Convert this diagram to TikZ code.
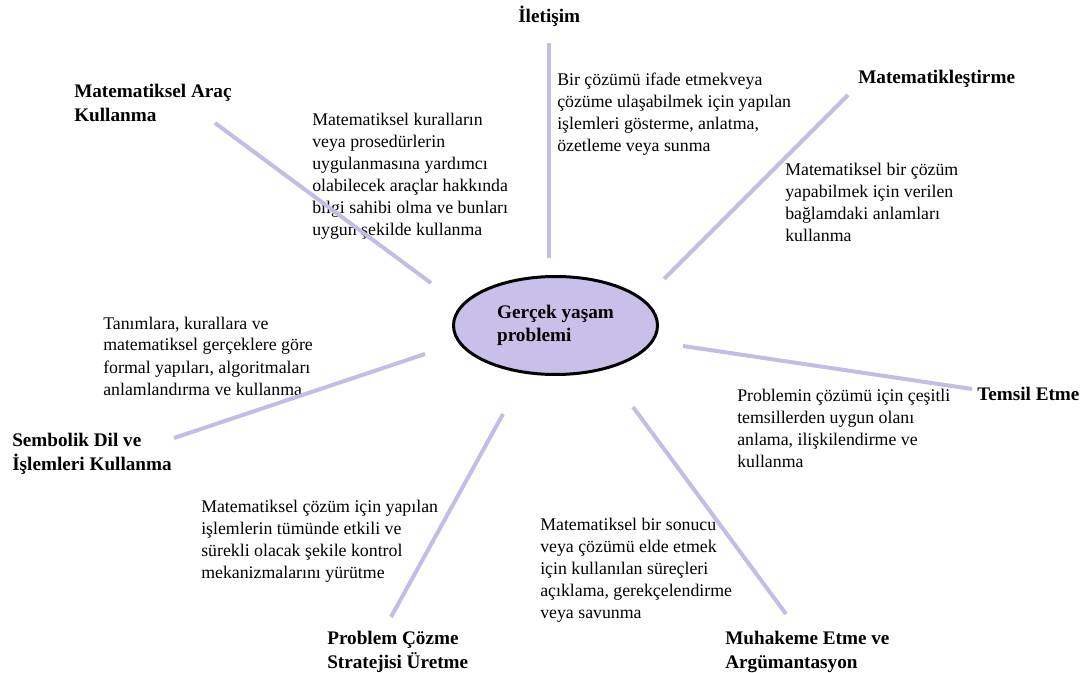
\documentclass[tikz,border=0pt]{standalone}
\usepackage{fontspec}
\setmainfont{Liberation Serif}
\definecolor{spokecol}{RGB}{196,188,230}
\definecolor{hubfill}{RGB}{200,192,232}
% left-aligned stack of lines whose baseline is the first line
\newcommand{\linestack}[1]{\begin{tabular}[t]{@{}l@{}}#1\end{tabular}}
\tikzset{
  desc/.style={anchor=base west, inner sep=0pt, font=\fontsize{13.35}{16.5}\selectfont},
  heading/.style={anchor=base west, inner sep=0pt, font=\fontsize{14.4}{18}\selectfont\bfseries},
  hub/.style={ellipse, draw=black, line width=2.25pt, fill=hubfill, inner sep=0pt,
    minimum width=153pt, minimum height=73.5pt,
    font=\fontsize{14.4}{17.25}\selectfont\bfseries},
  spoke/.style={draw=spokecol, line width=3pt}
}
\usetikzlibrary{shapes.geometric}
\begin{document}
\begin{tikzpicture}[x=0.75pt, y=-0.75pt]
\useasboundingbox (0,0) rectangle (1087,673);

% central problem
\node[hub] (core) at (555.5,325.5) {\linestack{Gerçek yaşam\\problemi}};

% competency headings
\node[heading] (ilet) at (518,23) {İletişim};
\node[heading] (arac) at (74,98) {\linestack{Matematiksel Araç\\Kullanma}};
\node[heading] (matk) at (858,84) {Matematikleştirme};
\node[heading] (tems) at (977,400) {Temsil Etme};
\node[heading] (semb) at (12,446) {\linestack{Sembolik Dil ve\\İşlemleri Kullanma}};
\node[heading] (prob) at (327,644) {\linestack{Problem Çözme\\Stratejisi Üretme}};
\node[heading] (muha) at (725,644) {\linestack{Muhakeme Etme ve\\Argümantasyon}};

% descriptions
\node[desc] (d-ilet) at (557,86) {\linestack{Bir çözümü ifade etmekveya\\çözüme ulaşabilmek için yapılan\\işlemleri gösterme, anlatma,\\özetleme veya sunma}};
\node[desc] (d-arac) at (312,126) {\linestack{Matematiksel kuralların\\veya prosedürlerin\\uygulanmasına yardımcı\\olabilecek araçlar hakkında\\bilgi sahibi olma ve bunları\\uygun şekilde kullanma}};
\node[desc] (d-matk) at (785,176) {\linestack{Matematiksel bir çözüm\\yapabilmek için verilen\\bağlamdaki anlamları\\kullanma}};
\node[desc] (d-semb) at (103,329) {\linestack{Tanımlara, kurallara ve\\matematiksel gerçeklere göre\\formal yapıları, algoritmaları\\anlamlandırma ve kullanma}};
\node[desc] (d-tems) at (737,401) {\linestack{Problemin çözümü için çeşitli\\temsillerden uygun olanı\\anlama, ilişkilendirme ve\\kullanma}};
\node[desc] (d-prob) at (201,512) {\linestack{Matematiksel çözüm için yapılan\\işlemlerin tümünde etkili ve\\sürekli olacak şekile kontrol\\mekanizmalarını yürütme}};
\node[desc] (d-muha) at (540,530) {\linestack{Matematiksel bir sonucu\\veya çözümü elde etmek\\için kullanılan süreçleri\\açıklama, gerekçelendirme\\veya savunma}};

% spoke end points
\coordinate (s1a) at (549,43);   \coordinate (s1b) at (549,258);
\coordinate (s2a) at (848,95);   \coordinate (s2b) at (664,279);
\coordinate (s3a) at (215,123);  \coordinate (s3b) at (431,283);
\coordinate (s4a) at (683,346);  \coordinate (s4b) at (972,389);
\coordinate (s5a) at (174,438);  \coordinate (s5b) at (425,354);
\coordinate (s6a) at (503,414);  \coordinate (s6b) at (391,617);
\coordinate (s7a) at (633,407);  \coordinate (s7b) at (786,614);

% spokes
\draw[spoke] (s1a) -- (s1b);
\draw[spoke] (s2a) -- (s2b);
\draw[spoke] (s3a) -- (s3b);
\draw[spoke] (s4a) -- (s4b);
\draw[spoke] (s5a) -- (s5b);
\draw[spoke] (s6a) -- (s6b);
\draw[spoke] (s7a) -- (s7b);
\end{tikzpicture}
\end{document}
